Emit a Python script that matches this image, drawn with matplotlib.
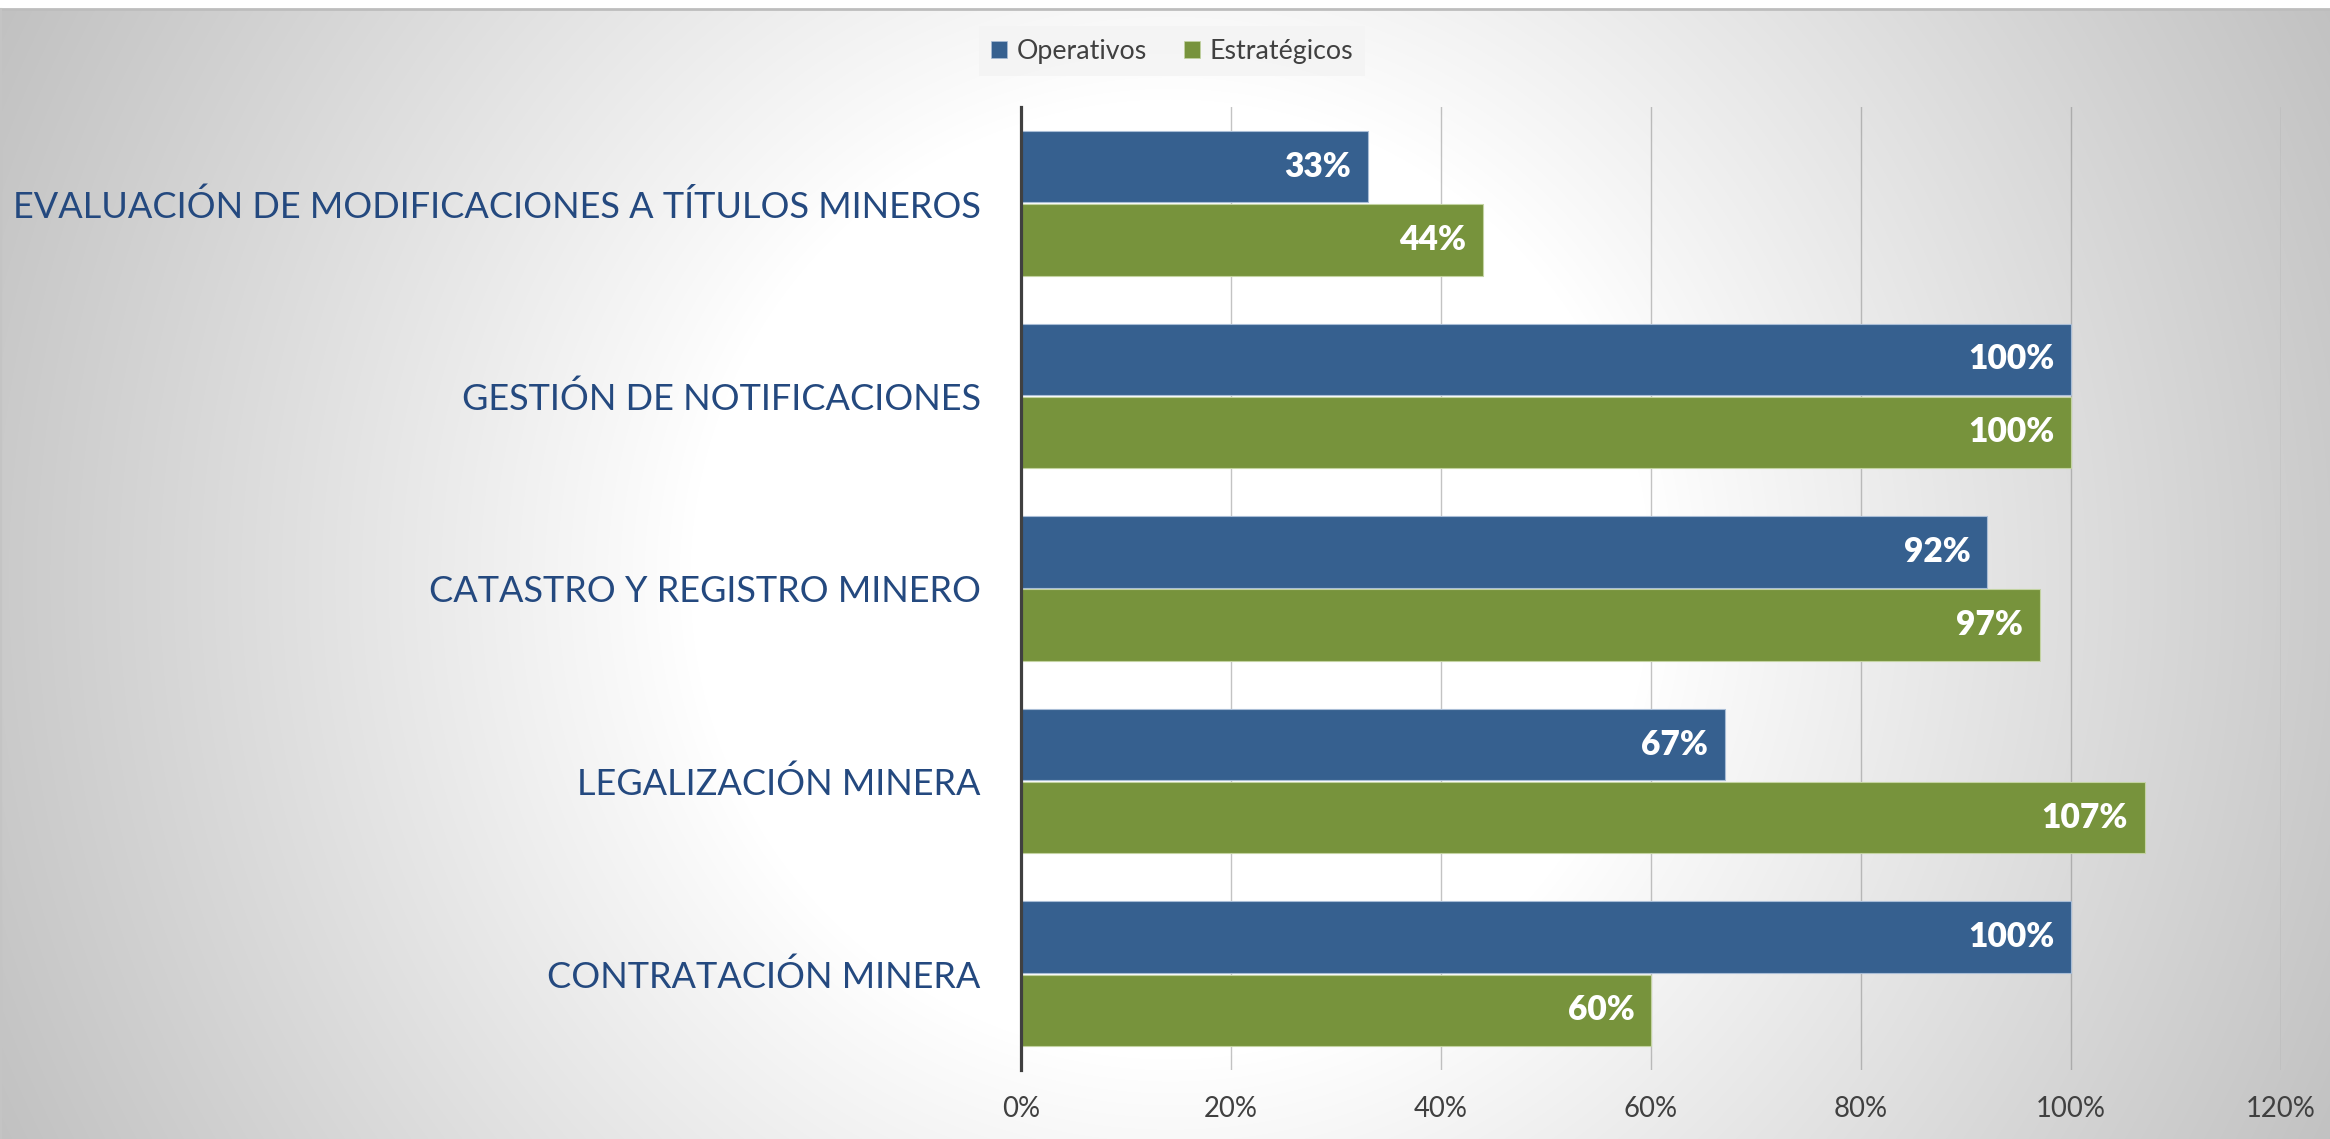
import numpy as np
import matplotlib
matplotlib.use("Agg")
import matplotlib.pyplot as plt
from matplotlib.patches import Patch
from matplotlib.lines import Line2D

# ---------------- data ----------------
categories = [
    "CONTRATACIÓN MINERA",
    "LEGALIZACIÓN MINERA",
    "CATASTRO Y REGISTRO MINERO",
    "GESTIÓN DE NOTIFICACIONES",
    "EVALUACIÓN DE MODIFICACIONES A TÍTULOS MINEROS",
]
operativos = [1.00, 0.67, 0.92, 1.00, 0.33]
estrategicos = [0.60, 1.07, 0.97, 1.00, 0.44]
series_names = ["Operativos", "Estratégicos"]
xticks = [0.0, 0.2, 0.4, 0.6, 0.8, 1.0, 1.2]
xtick_labels = ["0%", "20%", "40%", "60%", "80%", "100%", "120%"]

# ---------------- style ----------------
W, H, DPI = 2330, 1139, 100
FONT = ["Lato", "DejaVu Sans"]
plt.rcParams["font.family"] = FONT
C_OP = "#36608f"
C_ES = "#77933c"
C_LABEL = "#24497f"
C_TEXT = "#404040"

fig = plt.figure(figsize=(W / DPI, H / DPI), dpi=DPI)
fig.patch.set_facecolor("white")

# radial gradient background (chart area starts 9px below top)
top_px = 9
bg = fig.add_axes([0, 0, 1, 1 - top_px / H], zorder=-10)
gh, gw = H - top_px, W
yy, xx = np.mgrid[0:gh, 0:gw]
cx, cy = 1170, 570
r = np.hypot(xx - cx, yy - cy)
t = np.clip((r - 480) / 820.0, 0, 1)
val = 255 - t ** 0.95 * 62
img = np.dstack([val, val, val]).astype(np.uint8)
bg.imshow(img, aspect="auto", interpolation="bilinear", extent=[0, gw, gh, 0])
bg.set_xlim(0, gw)
bg.set_ylim(gh, 0)
bg.axis("off")
# border lines
fig.add_artist(Line2D([0, 1], [1 - top_px / H, 1 - top_px / H], transform=fig.transFigure,
                      color="#bdbdbd", lw=2))
fig.add_artist(Line2D([0.0004, 0.0004], [0, 1 - top_px / H], transform=fig.transFigure,
                      color="#c4c4c4", lw=1.5))

# main axes
x0, x1 = 1021, 2281
y_top, y_bot = 107, 1070
ax = fig.add_axes([x0 / W, 1 - y_bot / H, (x1 - x0) / W, (y_bot - y_top) / H])
ax.set_facecolor("none")

ypos = np.arange(len(categories))
bh = 0.37
off = 0.19
b1 = ax.barh(ypos + off, operativos, height=bh, color=C_OP, edgecolor="#a9bdd6",
             linewidth=0.8, zorder=3)
b2 = ax.barh(ypos - off, estrategicos, height=bh, color=C_ES, edgecolor="#c3d3a2",
             linewidth=0.8, zorder=3)

ax.set_xlim(0, 1.2)
ax.set_ylim(-0.5, len(categories) - 0.5)
ax.set_xticks(xticks)
ax.set_xticklabels(xtick_labels)
ax.set_yticks(ypos)
ax.set_yticklabels(categories)
ax.grid(axis="x", color="#7a7a7a", alpha=0.45, lw=1.0, zorder=0)
ax.set_axisbelow(True)
for s in ["top", "right", "bottom"]:
    ax.spines[s].set_visible(False)
ax.spines["left"].set_color("#404040")
ax.spines["left"].set_linewidth(2.3)
ax.spines["left"].set_zorder(5)
ax.tick_params(axis="x", length=0, pad=19, colors=C_TEXT)
ax.tick_params(axis="y", length=0, pad=29, colors=C_LABEL)

renderer = fig.canvas.get_renderer()

def fit(txt, target_w):
    fs = txt.get_fontsize()
    w = txt.get_window_extent(renderer).width
    txt.set_fontsize(fs * target_w / w)

for lab in ax.get_yticklabels():
    lab.set_fontsize(30)
    lab.set_color(C_LABEL)
fit(ax.get_yticklabels()[-1], 968)
fsy = ax.get_yticklabels()[-1].get_fontsize()
for lab in ax.get_yticklabels():
    lab.set_fontsize(fsy)

for lab in ax.get_xticklabels():
    lab.set_fontsize(20)
fit(ax.get_xticklabels()[5], 70)
fsx = ax.get_xticklabels()[5].get_fontsize()
for lab in ax.get_xticklabels():
    lab.set_fontsize(fsx)

# data labels
probe = ax.text(0, 0, "100%", fontsize=25, fontweight="bold")
fit(probe, 86)
fsd = probe.get_fontsize()
probe.remove()
for bars, vals in [(b1, operativos), (b2, estrategicos)]:
    for rect, v in zip(bars, vals):
        ax.annotate(f"{round(v * 100):d}%", xy=(v, rect.get_y() + rect.get_height() / 2),
                    xytext=(-12.0, 0), textcoords="offset points", ha="right", va="center",
                    color="white", fontweight="heavy", fontsize=fsd, zorder=6)

# legend
probe = fig.text(0, 0, "Operativos", fontsize=18)
fit(probe, 130)
fsl = probe.get_fontsize()
probe.remove()
handles = [Patch(facecolor=C_OP, edgecolor="#a9bdd6", lw=0.5),
           Patch(facecolor=C_ES, edgecolor="#c3d3a2", lw=0.5)]
leg = fig.legend(handles, series_names, loc="center", ncol=2,
                 bbox_to_anchor=(1172 / W, 1 - 51 / H), frameon=True, fontsize=fsl,
                 handlelength=0.6, handleheight=0.6, handletextpad=0.35,
                 columnspacing=1.4, borderpad=0.45, fancybox=False)
leg.get_frame().set_facecolor("#f4f4f4")
leg.get_frame().set_edgecolor("none")
leg.get_frame().set_alpha(0.85)
for txt in leg.get_texts():
    txt.set_color(C_TEXT)

fig.savefig("out.png", dpi=DPI)
